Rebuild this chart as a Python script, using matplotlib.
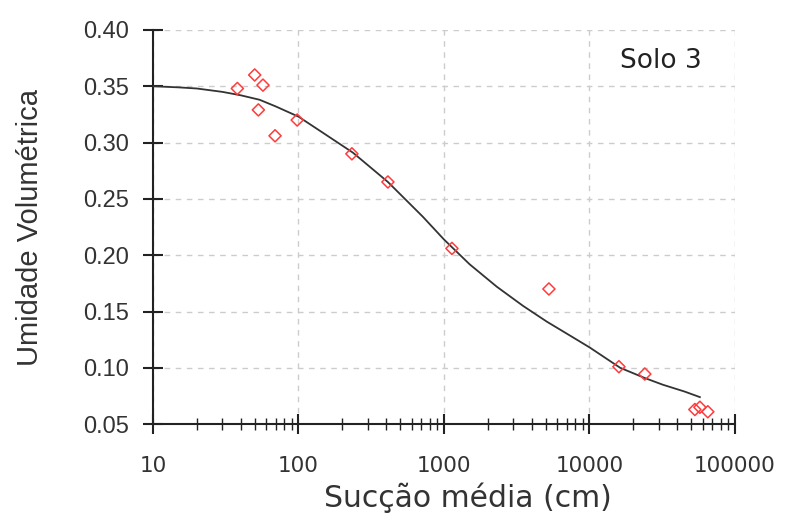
import matplotlib
matplotlib.use("Agg")
import matplotlib.pyplot as plt
from matplotlib.ticker import LogLocator, FixedLocator, NullFormatter

# Measured points
suction = [38, 50, 57, 53, 69, 98, 233, 412, 1135, 5270, 15960, 24060, 53100, 57500, 65200]
moisture = [0.348, 0.360, 0.351, 0.329, 0.306, 0.320, 0.290, 0.265, 0.206, 0.170,
            0.101, 0.0945, 0.063, 0.065, 0.061]

# Fitted curve
curve_x = [10, 15, 20, 30, 40, 54, 70, 100, 150, 237, 412, 718, 1000, 1500, 2310,
           3500, 5100, 7500, 10070, 16300, 24000, 32000, 45000, 57500]
curve_y = [0.350, 0.349, 0.348, 0.345, 0.342, 0.338, 0.332, 0.323, 0.308, 0.291, 0.265,
           0.234, 0.214, 0.192, 0.172, 0.155, 0.141, 0.128, 0.118, 0.100, 0.091,
           0.085, 0.079, 0.074]

yticks = [0.05, 0.10, 0.15, 0.20, 0.25, 0.30, 0.35, 0.40]
xticks = [10, 100, 1000, 10000, 100000]

fig = plt.figure(figsize=(7.97, 5.16), dpi=100)
ax = fig.add_axes([0.192, 0.178, 0.730, 0.764])

ax.plot(curve_x, curve_y, color="#333333", lw=1.3, zorder=3)
ax.scatter(suction, moisture, marker="D", s=38, facecolors="none",
           edgecolors="#ff3b3b", linewidths=1.1, zorder=4)

ax.set_xscale("log")
ax.set_xlim(10, 100000)
ax.set_ylim(0.05, 0.40)
ax.xaxis.set_major_locator(FixedLocator(xticks))
ax.set_xticklabels([str(v) for v in xticks])
ax.xaxis.set_minor_locator(LogLocator(base=10, subs=range(2, 10)))
ax.xaxis.set_minor_formatter(NullFormatter())
ax.set_yticks(yticks)
ax.set_yticklabels([f"{v:.2f}" for v in yticks], family="Liberation Sans")

ax.grid(True, which="major", linestyle=(0, (4, 4)), color="#cccccc", lw=1.0)
for s in ["top", "right"]:
    ax.spines[s].set_visible(False)
for s in ["left", "bottom"]:
    ax.spines[s].set_linewidth(1.5)
    ax.spines[s].set_color("#222222")

ax.tick_params(axis="x", which="major", direction="inout", length=14, width=1.5,
               labelsize=15.5, pad=16, color="#222222", labelcolor="#333333")
ax.tick_params(axis="x", which="minor", direction="inout", length=8, width=1.0,
               color="#222222")
ax.tick_params(axis="y", which="major", direction="inout", length=14, width=1.5,
               labelsize=17, pad=10, color="#222222", labelcolor="#333333")

ax.set_xlabel("Sucção média (cm)", fontsize=21.5, color="#333333", va="center")
ax.xaxis.set_label_coords(0.541, -0.186)
ax.set_ylabel("Umidade Volumétrica", fontsize=21, color="#333333",
              family="Liberation Sans", va="center")
ax.yaxis.set_label_coords(-0.211, 0.5)
ax.text(0.943, 0.92, "Solo 3", transform=ax.transAxes, fontsize=19,
        color="#222222", ha="right", va="center")

fig.savefig("out.png", dpi=100)
